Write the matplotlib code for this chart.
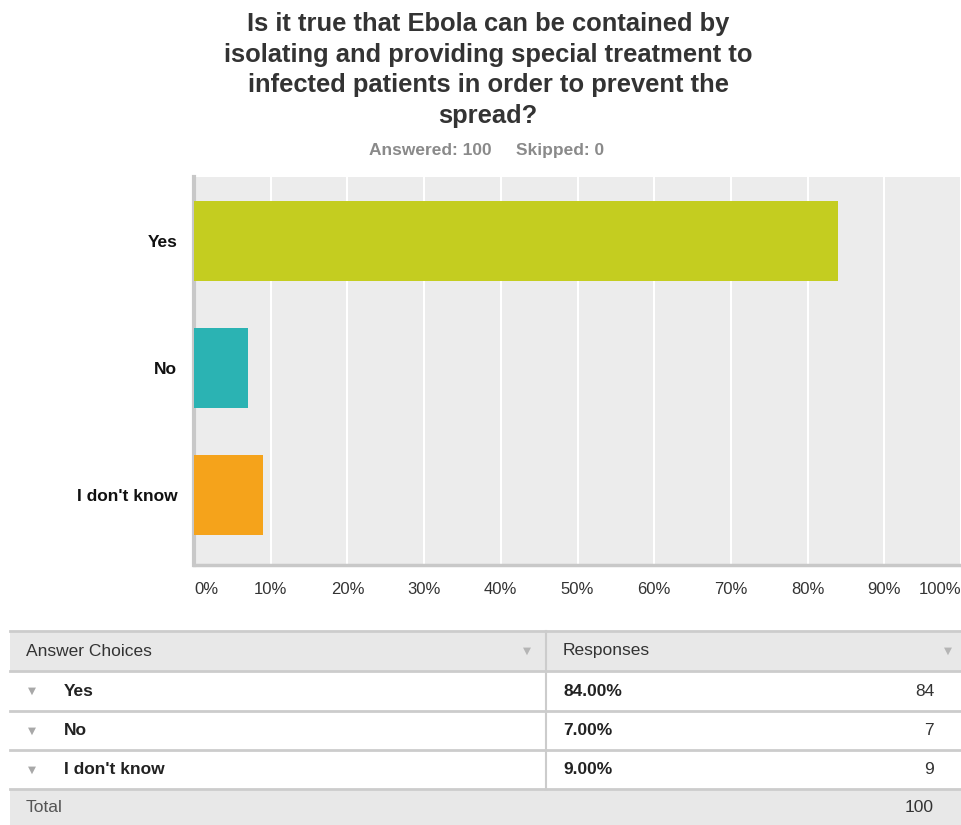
import matplotlib.pyplot as plt
from matplotlib.patches import Rectangle

# survey data
choices = ['Yes', 'No', "I don't know"]
percents = [84.0, 7.0, 9.0]
counts = [84, 7, 9]
colors = ['#c4cd20', '#2bb3b3', '#f5a31b']
xticks = [0, 10, 20, 30, 40, 50, 60, 70, 80, 90, 100]
xtick_labels = ['0%', '10%', '20%', '30%', '40%', '50%', '60%', '70%', '80%', '90%', '100%']
answered = 100
skipped = 0

title = ('Is it true that Ebola can be contained by\n'
         'isolating and providing special treatment to\n'
         'infected patients in order to prevent the\n'
         'spread?')

W, H = 961, 825
plt.rcParams['font.family'] = ['Liberation Sans', 'DejaVu Sans']
fig = plt.figure(figsize=(W / 100, H / 100), dpi=100)

# overlay in pixel coords for title and table
ov = fig.add_axes([0, 0, 1, 1])
ov.set_xlim(0, W)
ov.set_ylim(H, 0)
ov.axis('off')

ov.text(488, 70, title, ha='center', va='center', fontsize=18.4, fontweight='bold',
        color='#333333', linespacing=1.36)
ov.text(487, 150, 'Answered: %d     Skipped: %d' % (answered, skipped), ha='center',
        va='center', fontsize=12.5, fontweight='bold', color='#8a8a8a')

#%% bar chart
ax = fig.add_axes([194 / W, 1 - 565 / H, 1 - 194 / W, (565 - 177) / H])
ax.set_facecolor('#ececec')
ypos = list(range(len(choices)))
ax.barh(ypos, percents, height=0.63, color=colors, zorder=3)
ax.set_xlim(0, 100)
ax.set_ylim(2.55, -0.5)
ax.set_xticks(xticks)
ax.set_xticklabels(xtick_labels, fontsize=12, color='#333333')
ax.set_yticks(ypos)
ax.set_yticklabels(choices, fontsize=12.5, fontweight='bold', color='#111111')
ax.tick_params(length=0, pad=12)
ax.tick_params(axis='y', pad=12)
tl = ax.get_xticklabels()
tl[0].set_ha('left')
tl[-1].set_ha('right')
ax.grid(axis='x', color='white', linewidth=1.5, zorder=1)
for s in ['top', 'right']:
    ax.spines[s].set_visible(False)
ax.spines['left'].set_color('#c8c8c8')
ax.spines['left'].set_linewidth(3)
ax.spines['bottom'].set_color('#c8c8c8')
ax.spines['bottom'].set_linewidth(2.5)

#%% table below
tfont = ['Liberation Sans', 'DejaVu Sans']
x0, x1, xmid = 10, 961, 546
rows = [(631, 671), (671, 711), (711, 750), (750, 789), (789, 825)]
for i, (ya, yb) in enumerate(rows):
    fc = '#e8e8e8' if i in (0, len(rows) - 1) else 'white'
    ov.add_patch(Rectangle((x0, ya), x1 - x0, yb - ya, facecolor=fc, edgecolor='none'))
for ya, yb in rows:
    ov.plot([x0, x1], [ya, ya], color='#cccccc', lw=2)
ov.plot([xmid, xmid], [rows[0][0], rows[-1][0]], color='#cccccc', lw=1.5)

def cy(i):
    return (rows[i][0] + rows[i][1]) / 2

fs = 12.5
ov.text(26, cy(0), 'Answer Choices', va='center', fontsize=fs, color='#333333', family=tfont)
ov.text(563, cy(0), 'Responses', va='center', fontsize=fs, color='#333333', family=tfont)
ov.text(527, cy(0), '▼', va='center', ha='center', fontsize=7.5, color='#b5b5b5', family='DejaVu Sans')
ov.text(948, cy(0), '▼', va='center', ha='center', fontsize=7.5, color='#b5b5b5', family='DejaVu Sans')
for i, (c, p, n) in enumerate(zip(choices, percents, counts)):
    y = cy(i + 1)
    ov.text(32, y, '▼', va='center', ha='center', fontsize=7.5, color='#a8a8a8', family='DejaVu Sans')
    ov.text(64, y, c, va='center', fontsize=fs, fontweight='bold', color='#222222', family=tfont)
    ov.text(563, y, '%.2f%%' % p, va='center', fontsize=fs, fontweight='bold', color='#222222', family=tfont)
    ov.text(934, y, str(n), va='center', ha='right', fontsize=fs, color='#333333', family=tfont)
ov.text(26, cy(4), 'Total', va='center', fontsize=fs, color='#555555', family=tfont)
ov.text(934, cy(4), str(sum(counts)), va='center', ha='right', fontsize=fs, color='#333333', family=tfont)

fig.savefig('out.png', dpi=100)
